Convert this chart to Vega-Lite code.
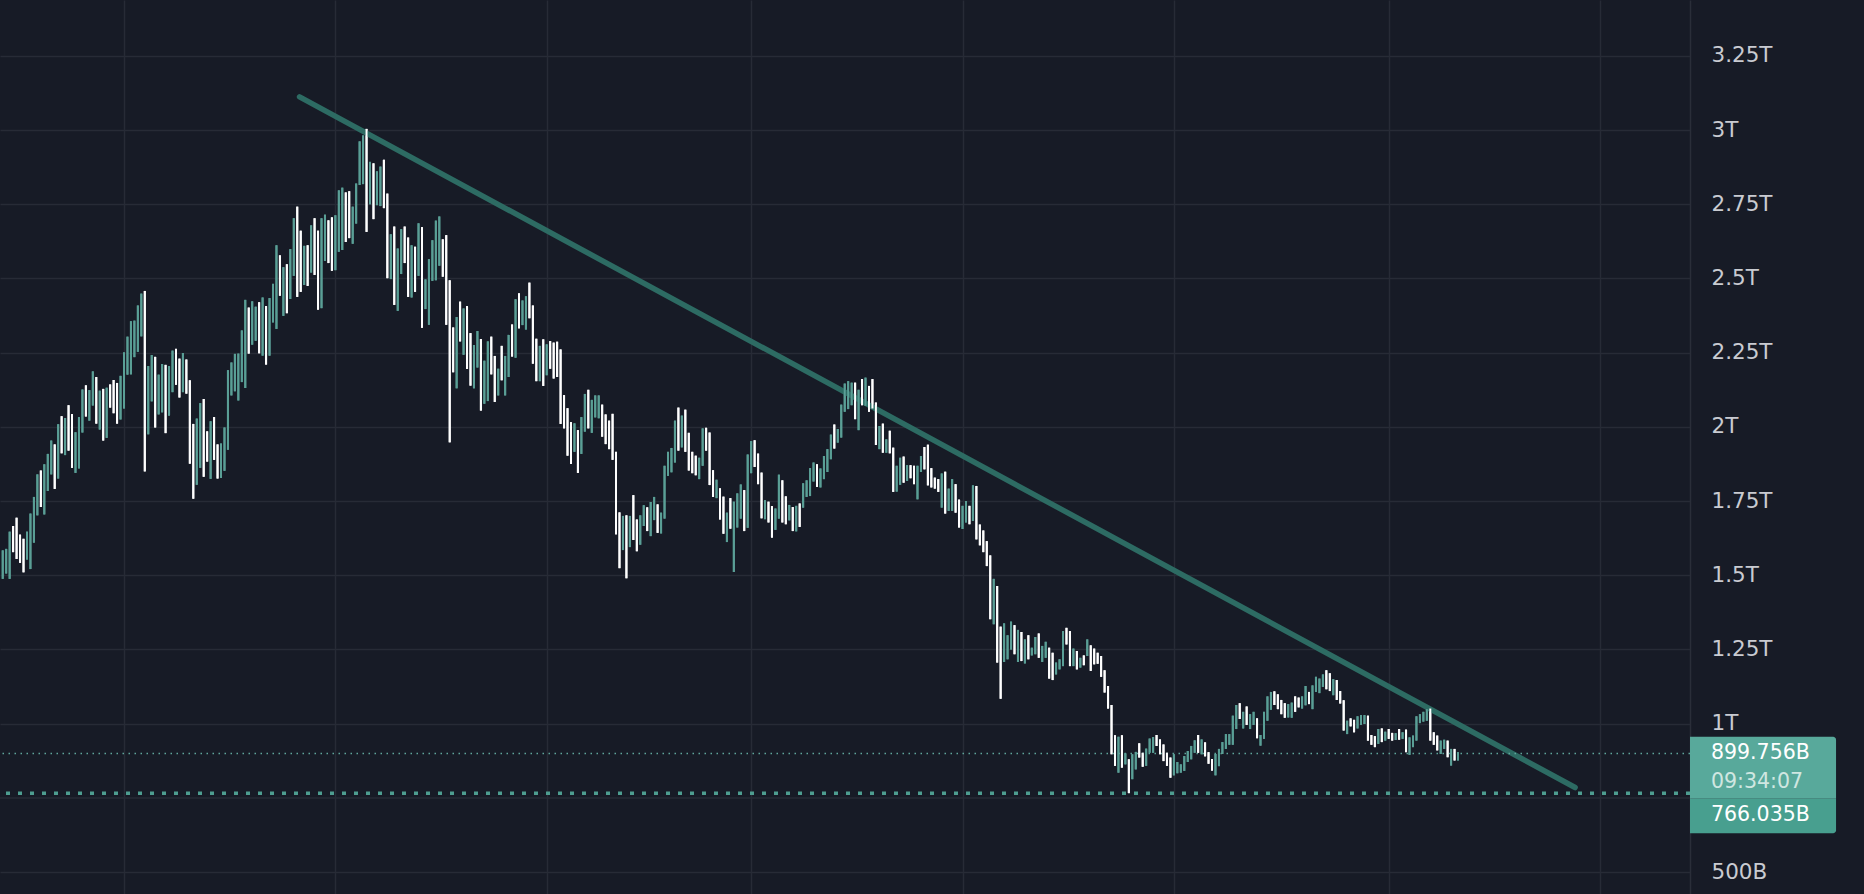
{
  "$schema": "https://vega.github.io/schema/vega-lite/v6.json",
  "width": 1690,
  "height": 894,
  "autosize": {"type": "none"},
  "padding": {"left": 0, "top": 0, "right": 174, "bottom": 0},
  "background": "#171b26",
  "config": {
    "view": {"stroke": null},
    "axis": {"gridColor": "#272b36", "gridWidth": 1.5, "ticks": false, "tickSize": 0, "domain": false, "labelFont": "DejaVu Sans"}
  },
  "datasets": {
    "bars": [
      {"t":"2021-07-28","h":1584,"l":1488,"dir":"up"},
      {"t":"2021-07-29","h":1589,"l":1506,"dir":"up"},
      {"t":"2021-07-30","h":1647,"l":1488,"dir":"up"},
      {"t":"2021-07-31","h":1666,"l":1578,"dir":"down"},
      {"t":"2021-08-01","h":1694,"l":1555,"dir":"down"},
      {"t":"2021-08-02","h":1637,"l":1542,"dir":"down"},
      {"t":"2021-08-03","h":1623,"l":1510,"dir":"down"},
      {"t":"2021-08-04","h":1647,"l":1553,"dir":"up"},
      {"t":"2021-08-05","h":1708,"l":1521,"dir":"up"},
      {"t":"2021-08-06","h":1764,"l":1610,"dir":"up"},
      {"t":"2021-08-07","h":1840,"l":1702,"dir":"up"},
      {"t":"2021-08-08","h":1853,"l":1730,"dir":"down"},
      {"t":"2021-08-09","h":1874,"l":1705,"dir":"up"},
      {"t":"2021-08-10","h":1909,"l":1784,"dir":"up"},
      {"t":"2021-08-11","h":1954,"l":1840,"dir":"up"},
      {"t":"2021-08-12","h":1941,"l":1791,"dir":"down"},
      {"t":"2021-08-13","h":2009,"l":1826,"dir":"up"},
      {"t":"2021-08-14","h":2036,"l":1911,"dir":"down"},
      {"t":"2021-08-15","h":2030,"l":1905,"dir":"up"},
      {"t":"2021-08-16","h":2073,"l":1920,"dir":"down"},
      {"t":"2021-08-17","h":2043,"l":1862,"dir":"down"},
      {"t":"2021-08-18","h":1982,"l":1845,"dir":"up"},
      {"t":"2021-08-19","h":2033,"l":1860,"dir":"up"},
      {"t":"2021-08-20","h":2126,"l":1981,"dir":"up"},
      {"t":"2021-08-21","h":2140,"l":2035,"dir":"down"},
      {"t":"2021-08-22","h":2124,"l":2021,"dir":"up"},
      {"t":"2021-08-23","h":2187,"l":2072,"dir":"up"},
      {"t":"2021-08-24","h":2168,"l":2011,"dir":"down"},
      {"t":"2021-08-25","h":2122,"l":1991,"dir":"up"},
      {"t":"2021-08-26","h":2128,"l":1954,"dir":"down"},
      {"t":"2021-08-27","h":2132,"l":1963,"dir":"up"},
      {"t":"2021-08-28","h":2143,"l":2065,"dir":"down"},
      {"t":"2021-08-29","h":2158,"l":2046,"dir":"down"},
      {"t":"2021-08-30","h":2148,"l":2011,"dir":"down"},
      {"t":"2021-08-31","h":2172,"l":2025,"dir":"up"},
      {"t":"2021-09-01","h":2251,"l":2062,"dir":"up"},
      {"t":"2021-09-02","h":2304,"l":2176,"dir":"up"},
      {"t":"2021-09-03","h":2356,"l":2177,"dir":"up"},
      {"t":"2021-09-04","h":2358,"l":2235,"dir":"up"},
      {"t":"2021-09-05","h":2409,"l":2253,"dir":"up"},
      {"t":"2021-09-06","h":2449,"l":2305,"dir":"up"},
      {"t":"2021-09-07","h":2458,"l":1850,"dir":"down"},
      {"t":"2021-09-08","h":2205,"l":1975,"dir":"up"},
      {"t":"2021-09-09","h":2242,"l":2086,"dir":"up"},
      {"t":"2021-09-10","h":2236,"l":1998,"dir":"down"},
      {"t":"2021-09-11","h":2176,"l":2042,"dir":"up"},
      {"t":"2021-09-12","h":2212,"l":2049,"dir":"up"},
      {"t":"2021-09-13","h":2209,"l":1979,"dir":"down"},
      {"t":"2021-09-14","h":2205,"l":2038,"dir":"up"},
      {"t":"2021-09-15","h":2257,"l":2117,"dir":"up"},
      {"t":"2021-09-16","h":2263,"l":2142,"dir":"down"},
      {"t":"2021-09-17","h":2230,"l":2099,"dir":"down"},
      {"t":"2021-09-18","h":2249,"l":2117,"dir":"up"},
      {"t":"2021-09-19","h":2227,"l":2112,"dir":"down"},
      {"t":"2021-09-20","h":2157,"l":1876,"dir":"down"},
      {"t":"2021-09-21","h":2010,"l":1758,"dir":"down"},
      {"t":"2021-09-22","h":2028,"l":1805,"dir":"up"},
      {"t":"2021-09-23","h":2080,"l":1862,"dir":"up"},
      {"t":"2021-09-24","h":2094,"l":1832,"dir":"down"},
      {"t":"2021-09-25","h":1985,"l":1883,"dir":"down"},
      {"t":"2021-09-26","h":2019,"l":1825,"dir":"up"},
      {"t":"2021-09-27","h":2033,"l":1889,"dir":"down"},
      {"t":"2021-09-28","h":1941,"l":1826,"dir":"down"},
      {"t":"2021-09-29","h":1944,"l":1828,"dir":"up"},
      {"t":"2021-09-30","h":1998,"l":1852,"dir":"up"},
      {"t":"2021-10-01","h":2191,"l":1923,"dir":"up"},
      {"t":"2021-10-02","h":2217,"l":2106,"dir":"up"},
      {"t":"2021-10-03","h":2246,"l":2120,"dir":"up"},
      {"t":"2021-10-04","h":2247,"l":2089,"dir":"up"},
      {"t":"2021-10-05","h":2325,"l":2151,"dir":"up"},
      {"t":"2021-10-06","h":2428,"l":2131,"dir":"up"},
      {"t":"2021-10-07","h":2402,"l":2247,"dir":"down"},
      {"t":"2021-10-08","h":2423,"l":2277,"dir":"up"},
      {"t":"2021-10-09","h":2405,"l":2290,"dir":"up"},
      {"t":"2021-10-10","h":2420,"l":2248,"dir":"down"},
      {"t":"2021-10-11","h":2436,"l":2240,"dir":"up"},
      {"t":"2021-10-12","h":2407,"l":2210,"dir":"down"},
      {"t":"2021-10-13","h":2434,"l":2240,"dir":"up"},
      {"t":"2021-10-14","h":2482,"l":2352,"dir":"up"},
      {"t":"2021-10-15","h":2612,"l":2330,"dir":"up"},
      {"t":"2021-10-16","h":2578,"l":2442,"dir":"down"},
      {"t":"2021-10-17","h":2538,"l":2374,"dir":"up"},
      {"t":"2021-10-18","h":2548,"l":2383,"dir":"down"},
      {"t":"2021-10-19","h":2599,"l":2431,"dir":"up"},
      {"t":"2021-10-20","h":2703,"l":2509,"dir":"up"},
      {"t":"2021-10-21","h":2742,"l":2438,"dir":"down"},
      {"t":"2021-10-22","h":2661,"l":2455,"dir":"down"},
      {"t":"2021-10-23","h":2610,"l":2478,"dir":"up"},
      {"t":"2021-10-24","h":2612,"l":2475,"dir":"down"},
      {"t":"2021-10-25","h":2679,"l":2520,"dir":"up"},
      {"t":"2021-10-26","h":2703,"l":2512,"dir":"down"},
      {"t":"2021-10-27","h":2661,"l":2395,"dir":"down"},
      {"t":"2021-10-28","h":2703,"l":2400,"dir":"up"},
      {"t":"2021-10-29","h":2715,"l":2559,"dir":"up"},
      {"t":"2021-10-30","h":2696,"l":2552,"dir":"down"},
      {"t":"2021-10-31","h":2706,"l":2526,"dir":"down"},
      {"t":"2021-11-01","h":2713,"l":2528,"dir":"up"},
      {"t":"2021-11-02","h":2797,"l":2590,"dir":"up"},
      {"t":"2021-11-03","h":2806,"l":2596,"dir":"up"},
      {"t":"2021-11-04","h":2790,"l":2623,"dir":"down"},
      {"t":"2021-11-05","h":2794,"l":2636,"dir":"down"},
      {"t":"2021-11-06","h":2742,"l":2617,"dir":"up"},
      {"t":"2021-11-07","h":2820,"l":2685,"dir":"up"},
      {"t":"2021-11-08","h":2962,"l":2815,"dir":"up"},
      {"t":"2021-11-09","h":2982,"l":2818,"dir":"up"},
      {"t":"2021-11-10","h":3004,"l":2657,"dir":"down"},
      {"t":"2021-11-11","h":2893,"l":2750,"dir":"up"},
      {"t":"2021-11-12","h":2888,"l":2700,"dir":"down"},
      {"t":"2021-11-13","h":2861,"l":2747,"dir":"up"},
      {"t":"2021-11-14","h":2877,"l":2744,"dir":"up"},
      {"t":"2021-11-15","h":2900,"l":2737,"dir":"down"},
      {"t":"2021-11-16","h":2786,"l":2501,"dir":"down"},
      {"t":"2021-11-17","h":2649,"l":2498,"dir":"up"},
      {"t":"2021-11-18","h":2675,"l":2411,"dir":"down"},
      {"t":"2021-11-19","h":2601,"l":2391,"dir":"up"},
      {"t":"2021-11-20","h":2666,"l":2515,"dir":"up"},
      {"t":"2021-11-21","h":2675,"l":2552,"dir":"down"},
      {"t":"2021-11-22","h":2638,"l":2438,"dir":"down"},
      {"t":"2021-11-23","h":2612,"l":2436,"dir":"up"},
      {"t":"2021-11-24","h":2607,"l":2455,"dir":"down"},
      {"t":"2021-11-25","h":2686,"l":2509,"dir":"up"},
      {"t":"2021-11-26","h":2673,"l":2334,"dir":"down"},
      {"t":"2021-11-27","h":2497,"l":2397,"dir":"up"},
      {"t":"2021-11-28","h":2565,"l":2344,"dir":"up"},
      {"t":"2021-11-29","h":2629,"l":2492,"dir":"up"},
      {"t":"2021-11-30","h":2695,"l":2494,"dir":"up"},
      {"t":"2021-12-01","h":2709,"l":2543,"dir":"up"},
      {"t":"2021-12-02","h":2632,"l":2506,"dir":"down"},
      {"t":"2021-12-03","h":2646,"l":2344,"dir":"down"},
      {"t":"2021-12-04","h":2494,"l":1948,"dir":"down"},
      {"t":"2021-12-05","h":2335,"l":2184,"dir":"down"},
      {"t":"2021-12-06","h":2370,"l":2130,"dir":"up"},
      {"t":"2021-12-07","h":2422,"l":2288,"dir":"down"},
      {"t":"2021-12-08","h":2399,"l":2243,"dir":"up"},
      {"t":"2021-12-09","h":2407,"l":2195,"dir":"down"},
      {"t":"2021-12-10","h":2316,"l":2139,"dir":"down"},
      {"t":"2021-12-11","h":2276,"l":2130,"dir":"up"},
      {"t":"2021-12-12","h":2323,"l":2200,"dir":"up"},
      {"t":"2021-12-13","h":2296,"l":2055,"dir":"down"},
      {"t":"2021-12-14","h":2223,"l":2078,"dir":"up"},
      {"t":"2021-12-15","h":2288,"l":2087,"dir":"up"},
      {"t":"2021-12-16","h":2304,"l":2177,"dir":"down"},
      {"t":"2021-12-17","h":2239,"l":2084,"dir":"down"},
      {"t":"2021-12-18","h":2196,"l":2106,"dir":"up"},
      {"t":"2021-12-19","h":2273,"l":2157,"dir":"down"},
      {"t":"2021-12-20","h":2239,"l":2106,"dir":"up"},
      {"t":"2021-12-21","h":2310,"l":2168,"dir":"up"},
      {"t":"2021-12-22","h":2345,"l":2237,"dir":"down"},
      {"t":"2021-12-23","h":2430,"l":2233,"dir":"up"},
      {"t":"2021-12-24","h":2450,"l":2332,"dir":"down"},
      {"t":"2021-12-25","h":2426,"l":2343,"dir":"up"},
      {"t":"2021-12-26","h":2440,"l":2328,"dir":"up"},
      {"t":"2021-12-27","h":2486,"l":2366,"dir":"down"},
      {"t":"2021-12-28","h":2409,"l":2213,"dir":"down"},
      {"t":"2021-12-29","h":2297,"l":2154,"dir":"down"},
      {"t":"2021-12-30","h":2273,"l":2154,"dir":"up"},
      {"t":"2021-12-31","h":2295,"l":2138,"dir":"down"},
      {"t":"2022-01-01","h":2278,"l":2174,"dir":"up"},
      {"t":"2022-01-02","h":2289,"l":2196,"dir":"down"},
      {"t":"2022-01-03","h":2284,"l":2163,"dir":"down"},
      {"t":"2022-01-04","h":2287,"l":2168,"dir":"down"},
      {"t":"2022-01-05","h":2261,"l":2010,"dir":"down"},
      {"t":"2022-01-06","h":2107,"l":1995,"dir":"down"},
      {"t":"2022-01-07","h":2063,"l":1903,"dir":"down"},
      {"t":"2022-01-08","h":2016,"l":1875,"dir":"down"},
      {"t":"2022-01-09","h":2012,"l":1916,"dir":"up"},
      {"t":"2022-01-10","h":1989,"l":1845,"dir":"down"},
      {"t":"2022-01-11","h":2033,"l":1909,"dir":"up"},
      {"t":"2022-01-12","h":2111,"l":1984,"dir":"up"},
      {"t":"2022-01-13","h":2125,"l":1995,"dir":"down"},
      {"t":"2022-01-14","h":2091,"l":1980,"dir":"up"},
      {"t":"2022-01-15","h":2106,"l":2032,"dir":"up"},
      {"t":"2022-01-16","h":2106,"l":2029,"dir":"up"},
      {"t":"2022-01-17","h":2075,"l":1967,"dir":"down"},
      {"t":"2022-01-18","h":2042,"l":1942,"dir":"down"},
      {"t":"2022-01-19","h":2021,"l":1925,"dir":"down"},
      {"t":"2022-01-20","h":2044,"l":1889,"dir":"down"},
      {"t":"2022-01-21","h":1916,"l":1638,"dir":"down"},
      {"t":"2022-01-22","h":1712,"l":1524,"dir":"down"},
      {"t":"2022-01-23","h":1700,"l":1585,"dir":"up"},
      {"t":"2022-01-24","h":1702,"l":1490,"dir":"down"},
      {"t":"2022-01-25","h":1700,"l":1595,"dir":"up"},
      {"t":"2022-01-26","h":1770,"l":1619,"dir":"down"},
      {"t":"2022-01-27","h":1688,"l":1581,"dir":"down"},
      {"t":"2022-01-28","h":1702,"l":1603,"dir":"up"},
      {"t":"2022-01-29","h":1736,"l":1666,"dir":"up"},
      {"t":"2022-01-30","h":1729,"l":1649,"dir":"down"},
      {"t":"2022-01-31","h":1747,"l":1632,"dir":"up"},
      {"t":"2022-02-01","h":1764,"l":1686,"dir":"up"},
      {"t":"2022-02-02","h":1739,"l":1643,"dir":"down"},
      {"t":"2022-02-03","h":1711,"l":1641,"dir":"up"},
      {"t":"2022-02-04","h":1869,"l":1691,"dir":"up"},
      {"t":"2022-02-05","h":1916,"l":1835,"dir":"up"},
      {"t":"2022-02-06","h":1929,"l":1847,"dir":"up"},
      {"t":"2022-02-07","h":2021,"l":1880,"dir":"up"},
      {"t":"2022-02-08","h":2065,"l":1920,"dir":"down"},
      {"t":"2022-02-09","h":2038,"l":1931,"dir":"up"},
      {"t":"2022-02-10","h":2058,"l":1916,"dir":"down"},
      {"t":"2022-02-11","h":1980,"l":1853,"dir":"down"},
      {"t":"2022-02-12","h":1916,"l":1844,"dir":"down"},
      {"t":"2022-02-13","h":1903,"l":1837,"dir":"down"},
      {"t":"2022-02-14","h":1896,"l":1824,"dir":"up"},
      {"t":"2022-02-15","h":1995,"l":1869,"dir":"up"},
      {"t":"2022-02-16","h":1997,"l":1920,"dir":"down"},
      {"t":"2022-02-17","h":1981,"l":1804,"dir":"down"},
      {"t":"2022-02-18","h":1854,"l":1764,"dir":"down"},
      {"t":"2022-02-19","h":1822,"l":1760,"dir":"up"},
      {"t":"2022-02-20","h":1793,"l":1688,"dir":"down"},
      {"t":"2022-02-21","h":1765,"l":1640,"dir":"down"},
      {"t":"2022-02-22","h":1711,"l":1612,"dir":"up"},
      {"t":"2022-02-23","h":1760,"l":1657,"dir":"down"},
      {"t":"2022-02-24","h":1748,"l":1511,"dir":"up"},
      {"t":"2022-02-25","h":1776,"l":1661,"dir":"up"},
      {"t":"2022-02-26","h":1806,"l":1691,"dir":"up"},
      {"t":"2022-02-27","h":1787,"l":1649,"dir":"down"},
      {"t":"2022-02-28","h":1907,"l":1660,"dir":"up"},
      {"t":"2022-03-01","h":1952,"l":1844,"dir":"up"},
      {"t":"2022-03-02","h":1955,"l":1865,"dir":"down"},
      {"t":"2022-03-03","h":1910,"l":1807,"dir":"down"},
      {"t":"2022-03-04","h":1846,"l":1692,"dir":"down"},
      {"t":"2022-03-05","h":1753,"l":1689,"dir":"up"},
      {"t":"2022-03-06","h":1748,"l":1678,"dir":"down"},
      {"t":"2022-03-07","h":1733,"l":1627,"dir":"down"},
      {"t":"2022-03-08","h":1725,"l":1653,"dir":"up"},
      {"t":"2022-03-09","h":1839,"l":1691,"dir":"up"},
      {"t":"2022-03-10","h":1820,"l":1678,"dir":"down"},
      {"t":"2022-03-11","h":1766,"l":1672,"dir":"down"},
      {"t":"2022-03-12","h":1737,"l":1685,"dir":"up"},
      {"t":"2022-03-13","h":1730,"l":1649,"dir":"down"},
      {"t":"2022-03-14","h":1734,"l":1648,"dir":"up"},
      {"t":"2022-03-15","h":1742,"l":1663,"dir":"down"},
      {"t":"2022-03-16","h":1810,"l":1728,"dir":"up"},
      {"t":"2022-03-17","h":1820,"l":1764,"dir":"up"},
      {"t":"2022-03-18","h":1861,"l":1767,"dir":"up"},
      {"t":"2022-03-19","h":1880,"l":1816,"dir":"up"},
      {"t":"2022-03-20","h":1874,"l":1798,"dir":"down"},
      {"t":"2022-03-21","h":1860,"l":1796,"dir":"up"},
      {"t":"2022-03-22","h":1902,"l":1824,"dir":"up"},
      {"t":"2022-03-23","h":1925,"l":1848,"dir":"up"},
      {"t":"2022-03-24","h":1974,"l":1891,"dir":"up"},
      {"t":"2022-03-25","h":2008,"l":1927,"dir":"down"},
      {"t":"2022-03-26","h":1993,"l":1947,"dir":"up"},
      {"t":"2022-03-27","h":2075,"l":1964,"dir":"up"},
      {"t":"2022-03-28","h":2146,"l":2051,"dir":"up"},
      {"t":"2022-03-29","h":2154,"l":2060,"dir":"up"},
      {"t":"2022-03-30","h":2149,"l":2073,"dir":"up"},
      {"t":"2022-03-31","h":2149,"l":2026,"dir":"down"},
      {"t":"2022-04-01","h":2125,"l":1989,"dir":"up"},
      {"t":"2022-04-02","h":2161,"l":2073,"dir":"down"},
      {"t":"2022-04-03","h":2166,"l":2071,"dir":"up"},
      {"t":"2022-04-04","h":2138,"l":2051,"dir":"down"},
      {"t":"2022-04-05","h":2161,"l":2062,"dir":"down"},
      {"t":"2022-04-06","h":2082,"l":1939,"dir":"down"},
      {"t":"2022-04-07","h":2003,"l":1925,"dir":"up"},
      {"t":"2022-04-08","h":2011,"l":1913,"dir":"down"},
      {"t":"2022-04-09","h":1958,"l":1913,"dir":"up"},
      {"t":"2022-04-10","h":1987,"l":1911,"dir":"down"},
      {"t":"2022-04-11","h":1930,"l":1781,"dir":"down"},
      {"t":"2022-04-12","h":1869,"l":1782,"dir":"up"},
      {"t":"2022-04-13","h":1896,"l":1805,"dir":"up"},
      {"t":"2022-04-14","h":1900,"l":1812,"dir":"down"},
      {"t":"2022-04-15","h":1871,"l":1818,"dir":"up"},
      {"t":"2022-04-16","h":1871,"l":1827,"dir":"down"},
      {"t":"2022-04-17","h":1869,"l":1807,"dir":"down"},
      {"t":"2022-04-18","h":1869,"l":1756,"dir":"up"},
      {"t":"2022-04-19","h":1902,"l":1848,"dir":"up"},
      {"t":"2022-04-20","h":1932,"l":1857,"dir":"down"},
      {"t":"2022-04-21","h":1940,"l":1803,"dir":"down"},
      {"t":"2022-04-22","h":1861,"l":1796,"dir":"down"},
      {"t":"2022-04-23","h":1829,"l":1792,"dir":"down"},
      {"t":"2022-04-24","h":1824,"l":1781,"dir":"down"},
      {"t":"2022-04-25","h":1843,"l":1728,"dir":"up"},
      {"t":"2022-04-26","h":1849,"l":1708,"dir":"down"},
      {"t":"2022-04-27","h":1792,"l":1717,"dir":"up"},
      {"t":"2022-04-28","h":1824,"l":1717,"dir":"up"},
      {"t":"2022-04-29","h":1807,"l":1711,"dir":"down"},
      {"t":"2022-04-30","h":1755,"l":1661,"dir":"down"},
      {"t":"2022-05-01","h":1734,"l":1656,"dir":"up"},
      {"t":"2022-05-02","h":1750,"l":1678,"dir":"up"},
      {"t":"2022-05-03","h":1734,"l":1672,"dir":"down"},
      {"t":"2022-05-04","h":1803,"l":1683,"dir":"up"},
      {"t":"2022-05-05","h":1801,"l":1621,"dir":"down"},
      {"t":"2022-05-06","h":1671,"l":1601,"dir":"down"},
      {"t":"2022-05-07","h":1651,"l":1578,"dir":"down"},
      {"t":"2022-05-08","h":1615,"l":1531,"dir":"down"},
      {"t":"2022-05-09","h":1567,"l":1352,"dir":"down"},
      {"t":"2022-05-10","h":1488,"l":1335,"dir":"up"},
      {"t":"2022-05-11","h":1464,"l":1206,"dir":"down"},
      {"t":"2022-05-12","h":1327,"l":1084,"dir":"down"},
      {"t":"2022-05-13","h":1338,"l":1208,"dir":"up"},
      {"t":"2022-05-14","h":1298,"l":1217,"dir":"up"},
      {"t":"2022-05-15","h":1344,"l":1250,"dir":"up"},
      {"t":"2022-05-16","h":1332,"l":1234,"dir":"down"},
      {"t":"2022-05-17","h":1316,"l":1208,"dir":"up"},
      {"t":"2022-05-18","h":1309,"l":1211,"dir":"down"},
      {"t":"2022-05-19","h":1284,"l":1203,"dir":"up"},
      {"t":"2022-05-20","h":1298,"l":1217,"dir":"down"},
      {"t":"2022-05-21","h":1256,"l":1230,"dir":"up"},
      {"t":"2022-05-22","h":1292,"l":1234,"dir":"up"},
      {"t":"2022-05-23","h":1304,"l":1222,"dir":"down"},
      {"t":"2022-05-24","h":1262,"l":1208,"dir":"up"},
      {"t":"2022-05-25","h":1276,"l":1222,"dir":"up"},
      {"t":"2022-05-26","h":1256,"l":1152,"dir":"down"},
      {"t":"2022-05-27","h":1239,"l":1147,"dir":"down"},
      {"t":"2022-05-28","h":1206,"l":1166,"dir":"up"},
      {"t":"2022-05-29","h":1217,"l":1183,"dir":"up"},
      {"t":"2022-05-30","h":1312,"l":1194,"dir":"up"},
      {"t":"2022-05-31","h":1323,"l":1267,"dir":"down"},
      {"t":"2022-06-01","h":1312,"l":1194,"dir":"down"},
      {"t":"2022-06-02","h":1253,"l":1194,"dir":"up"},
      {"t":"2022-06-03","h":1245,"l":1183,"dir":"down"},
      {"t":"2022-06-04","h":1222,"l":1189,"dir":"up"},
      {"t":"2022-06-05","h":1230,"l":1197,"dir":"down"},
      {"t":"2022-06-06","h":1284,"l":1228,"dir":"up"},
      {"t":"2022-06-07","h":1264,"l":1178,"dir":"down"},
      {"t":"2022-06-08","h":1253,"l":1200,"dir":"down"},
      {"t":"2022-06-09","h":1239,"l":1202,"dir":"down"},
      {"t":"2022-06-10","h":1228,"l":1158,"dir":"down"},
      {"t":"2022-06-11","h":1180,"l":1105,"dir":"down"},
      {"t":"2022-06-12","h":1127,"l":1051,"dir":"down"},
      {"t":"2022-06-13","h":1063,"l":897,"dir":"down"},
      {"t":"2022-06-14","h":961,"l":858,"dir":"down"},
      {"t":"2022-06-15","h":956,"l":835,"dir":"up"},
      {"t":"2022-06-16","h":961,"l":852,"dir":"down"},
      {"t":"2022-06-17","h":900,"l":863,"dir":"up"},
      {"t":"2022-06-18","h":880,"l":766,"dir":"down"},
      {"t":"2022-06-19","h":897,"l":813,"dir":"up"},
      {"t":"2022-06-20","h":905,"l":846,"dir":"up"},
      {"t":"2022-06-21","h":934,"l":886,"dir":"down"},
      {"t":"2022-06-22","h":902,"l":855,"dir":"down"},
      {"t":"2022-06-23","h":916,"l":858,"dir":"up"},
      {"t":"2022-06-24","h":950,"l":902,"dir":"up"},
      {"t":"2022-06-25","h":955,"l":902,"dir":"up"},
      {"t":"2022-06-26","h":962,"l":925,"dir":"down"},
      {"t":"2022-06-27","h":947,"l":897,"dir":"down"},
      {"t":"2022-06-28","h":930,"l":874,"dir":"down"},
      {"t":"2022-06-29","h":902,"l":858,"dir":"down"},
      {"t":"2022-06-30","h":886,"l":818,"dir":"down"},
      {"t":"2022-07-01","h":897,"l":826,"dir":"up"},
      {"t":"2022-07-02","h":871,"l":833,"dir":"up"},
      {"t":"2022-07-03","h":863,"l":835,"dir":"up"},
      {"t":"2022-07-04","h":891,"l":841,"dir":"up"},
      {"t":"2022-07-05","h":908,"l":871,"dir":"up"},
      {"t":"2022-07-06","h":925,"l":880,"dir":"up"},
      {"t":"2022-07-07","h":944,"l":902,"dir":"up"},
      {"t":"2022-07-08","h":962,"l":902,"dir":"down"},
      {"t":"2022-07-09","h":947,"l":897,"dir":"up"},
      {"t":"2022-07-10","h":937,"l":890,"dir":"down"},
      {"t":"2022-07-11","h":904,"l":865,"dir":"down"},
      {"t":"2022-07-12","h":881,"l":842,"dir":"down"},
      {"t":"2022-07-13","h":898,"l":826,"dir":"up"},
      {"t":"2022-07-14","h":915,"l":857,"dir":"up"},
      {"t":"2022-07-15","h":938,"l":898,"dir":"up"},
      {"t":"2022-07-16","h":965,"l":915,"dir":"up"},
      {"t":"2022-07-17","h":965,"l":929,"dir":"up"},
      {"t":"2022-07-18","h":1027,"l":929,"dir":"up"},
      {"t":"2022-07-19","h":1063,"l":982,"dir":"up"},
      {"t":"2022-07-20","h":1069,"l":1016,"dir":"down"},
      {"t":"2022-07-21","h":1040,"l":984,"dir":"up"},
      {"t":"2022-07-22","h":1058,"l":996,"dir":"down"},
      {"t":"2022-07-23","h":1032,"l":982,"dir":"up"},
      {"t":"2022-07-24","h":1040,"l":996,"dir":"up"},
      {"t":"2022-07-25","h":1018,"l":951,"dir":"down"},
      {"t":"2022-07-26","h":962,"l":926,"dir":"up"},
      {"t":"2022-07-27","h":1040,"l":949,"dir":"up"},
      {"t":"2022-07-28","h":1092,"l":1010,"dir":"up"},
      {"t":"2022-07-29","h":1107,"l":1047,"dir":"up"},
      {"t":"2022-07-30","h":1109,"l":1063,"dir":"down"},
      {"t":"2022-07-31","h":1099,"l":1049,"dir":"down"},
      {"t":"2022-08-01","h":1080,"l":1032,"dir":"down"},
      {"t":"2022-08-02","h":1069,"l":1020,"dir":"down"},
      {"t":"2022-08-03","h":1066,"l":1021,"dir":"up"},
      {"t":"2022-08-04","h":1071,"l":1020,"dir":"up"},
      {"t":"2022-08-05","h":1092,"l":1040,"dir":"down"},
      {"t":"2022-08-06","h":1088,"l":1055,"dir":"down"},
      {"t":"2022-08-07","h":1092,"l":1051,"dir":"up"},
      {"t":"2022-08-08","h":1127,"l":1062,"dir":"up"},
      {"t":"2022-08-09","h":1107,"l":1066,"dir":"down"},
      {"t":"2022-08-10","h":1129,"l":1049,"dir":"up"},
      {"t":"2022-08-11","h":1158,"l":1107,"dir":"up"},
      {"t":"2022-08-12","h":1152,"l":1103,"dir":"up"},
      {"t":"2022-08-13","h":1166,"l":1124,"dir":"up"},
      {"t":"2022-08-14","h":1180,"l":1116,"dir":"down"},
      {"t":"2022-08-15","h":1170,"l":1110,"dir":"down"},
      {"t":"2022-08-16","h":1150,"l":1096,"dir":"up"},
      {"t":"2022-08-17","h":1147,"l":1080,"dir":"down"},
      {"t":"2022-08-18","h":1110,"l":1068,"dir":"down"},
      {"t":"2022-08-19","h":1079,"l":977,"dir":"down"},
      {"t":"2022-08-20","h":1010,"l":965,"dir":"up"},
      {"t":"2022-08-21","h":1018,"l":991,"dir":"down"},
      {"t":"2022-08-22","h":1013,"l":971,"dir":"down"},
      {"t":"2022-08-23","h":1025,"l":984,"dir":"up"},
      {"t":"2022-08-24","h":1029,"l":996,"dir":"up"},
      {"t":"2022-08-25","h":1029,"l":999,"dir":"up"},
      {"t":"2022-08-26","h":1027,"l":943,"dir":"down"},
      {"t":"2022-08-27","h":962,"l":929,"dir":"down"},
      {"t":"2022-08-28","h":958,"l":921,"dir":"down"},
      {"t":"2022-08-29","h":982,"l":932,"dir":"up"},
      {"t":"2022-08-30","h":984,"l":938,"dir":"down"},
      {"t":"2022-08-31","h":973,"l":943,"dir":"up"},
      {"t":"2022-09-01","h":982,"l":949,"dir":"down"},
      {"t":"2022-09-02","h":969,"l":943,"dir":"down"},
      {"t":"2022-09-03","h":968,"l":945,"dir":"up"},
      {"t":"2022-09-04","h":982,"l":946,"dir":"down"},
      {"t":"2022-09-05","h":971,"l":949,"dir":"up"},
      {"t":"2022-09-06","h":980,"l":904,"dir":"down"},
      {"t":"2022-09-07","h":954,"l":895,"dir":"up"},
      {"t":"2022-09-08","h":960,"l":921,"dir":"up"},
      {"t":"2022-09-09","h":1025,"l":943,"dir":"up"},
      {"t":"2022-09-10","h":1032,"l":1002,"dir":"up"},
      {"t":"2022-09-11","h":1040,"l":1007,"dir":"up"},
      {"t":"2022-09-12","h":1049,"l":1010,"dir":"up"},
      {"t":"2022-09-13","h":1051,"l":943,"dir":"down"},
      {"t":"2022-09-14","h":971,"l":929,"dir":"down"},
      {"t":"2022-09-15","h":960,"l":910,"dir":"down"},
      {"t":"2022-09-16","h":943,"l":898,"dir":"up"},
      {"t":"2022-09-17","h":946,"l":915,"dir":"up"},
      {"t":"2022-09-18","h":943,"l":887,"dir":"down"},
      {"t":"2022-09-19","h":915,"l":859,"dir":"up"},
      {"t":"2022-09-20","h":915,"l":876,"dir":"down"},
      {"t":"2022-09-21","h":904,"l":876,"dir":"up"}
    ]
  },
  "layer": [
    {
      "data": {"values": [{"level": 750}]},
      "mark": {"type": "rule", "strokeWidth": 1.5, "color": "#272b36"},
      "encoding": {"y": {"field": "level", "type": "quantitative", "title": null}}
    },
    {
      "data": {"name": "bars"},
      "mark": {"type": "rule", "strokeWidth": 2},
      "encoding": {
        "x": {
          "field": "t", "type": "temporal", "title": null,
          "scale": {"type": "utc", "domain": [
            {"year": 2021, "month": "jul", "date": 27, "hours": 5, "minutes": 8, "utc": true},
            {"year": 2022, "month": "nov", "date": 26, "hours": 22, "minutes": 48, "utc": true}
          ]},
          "axis": {
            "values": [
              {"year": 2021, "month": "sep", "date": 1, "utc": true},
              {"year": 2021, "month": "nov", "date": 1, "utc": true},
              {"year": 2022, "month": "jan", "date": 1, "utc": true},
              {"year": 2022, "month": "mar", "date": 1, "utc": true},
              {"year": 2022, "month": "may", "date": 1, "utc": true},
              {"year": 2022, "month": "jul", "date": 1, "utc": true},
              {"year": 2022, "month": "sep", "date": 1, "utc": true},
              {"year": 2022, "month": "nov", "date": 1, "utc": true}
            ],
            "grid": true, "labels": false, "ticks": false, "domain": false
          }
        },
        "y": {
          "field": "h", "type": "quantitative", "title": null,
          "scale": {"domain": [426.2, 3438.3], "nice": false, "zero": false},
          "axis": {
            "orient": "right",
            "values": [500, 1000, 1250, 1500, 1750, 2000, 2250, 2500, 2750, 3000, 3250],
            "grid": true,
            "domain": true, "domainColor": "#2a2e39", "domainWidth": 1.5,
            "ticks": false, "tickSize": 0,
            "labelPadding": 21,
            "labelFont": "DejaVu Sans", "labelFontSize": 21.5, "labelColor": "#c9cbd1",
            "labelExpr": "datum.value >= 1000 ? format(datum.value / 1000, '~g') + 'T' : format(datum.value, 'd') + 'B'"
          }
        },
        "y2": {"field": "l"},
        "color": {"field": "dir", "type": "nominal", "legend": null,
          "scale": {"domain": ["up", "down"], "range": ["#5a9f96", "#ffffff"]}}
      }
    },
    {
      "data": {"values": [
        {"t": "2021-10-21T16:00:00Z", "v": 3112},
        {"t": "2022-10-24T19:00:00Z", "v": 785}
      ]},
      "mark": {"type": "line", "strokeWidth": 5.5, "strokeCap": "round", "color": "#2d6b63"},
      "encoding": {
        "x": {"field": "t", "type": "temporal", "title": null},
        "y": {"field": "v", "type": "quantitative", "title": null}
      }
    },
    {
      "data": {"values": [{"level": 899.756}]},
      "mark": {"type": "rule", "strokeWidth": 1.5, "strokeDash": [1.5, 4.5], "color": "#5fa69c"},
      "encoding": {"y": {"field": "level", "type": "quantitative", "title": null}}
    },
    {
      "data": {"values": [{"level": 766.035}]},
      "mark": {"type": "rule", "strokeWidth": 3.5, "strokeDash": [4, 8], "color": "#4e9d90"},
      "encoding": {"y": {"field": "level", "type": "quantitative", "title": null}}
    },
    {
      "data": {"name": "bars"},
      "mark": {"type": "rule", "strokeWidth": 2},
      "encoding": {
        "x": {"field": "t", "type": "temporal", "title": null},
        "y": {"field": "h", "type": "quantitative", "title": null},
        "y2": {"field": "l"},
        "color": {"field": "dir", "type": "nominal", "legend": null}
      }
    },
    {
      "data": {"values": [{"from": "2022-11-26T22:48:00Z", "to": "2023-01-08T02:24:00Z", "top": 956.2, "bottom": 747.3}]},
      "mark": {"type": "rect", "color": "#58a99b", "cornerRadiusTopRight": 3},
      "encoding": {
        "x": {"field": "from", "type": "temporal", "title": null},
        "x2": {"field": "to"},
        "y": {"field": "top", "type": "quantitative", "title": null},
        "y2": {"field": "bottom"}
      }
    },
    {
      "data": {"values": [{"from": "2022-11-26T22:48:00Z", "to": "2023-01-08T02:24:00Z", "top": 747.3, "bottom": 630.7}]},
      "mark": {"type": "rect", "color": "#489f8f", "cornerRadiusBottomRight": 3},
      "encoding": {
        "x": {"field": "from", "type": "temporal", "title": null},
        "x2": {"field": "to"},
        "y": {"field": "top", "type": "quantitative", "title": null},
        "y2": {"field": "bottom"}
      }
    },
    {
      "data": {"values": [
        {"t": "2022-12-03T00:00:00Z", "v": 899.756, "label": "899.756B"},
        {"t": "2022-12-03T00:00:00Z", "v": 692.4, "label": "766.035B"}
      ]},
      "mark": {"type": "text", "align": "left", "baseline": "middle", "font": "DejaVu Sans", "fontSize": 20.5, "color": "#ffffff"},
      "encoding": {
        "x": {"field": "t", "type": "temporal", "title": null},
        "y": {"field": "v", "type": "quantitative", "title": null},
        "text": {"field": "label"}
      }
    },
    {
      "data": {"values": [{"t": "2022-12-03T00:00:00Z", "v": 804.6, "label": "09:34:07"}]},
      "mark": {"type": "text", "align": "left", "baseline": "middle", "font": "DejaVu Sans", "fontSize": 20.5, "color": "#e4f2ee", "opacity": 0.85},
      "encoding": {
        "x": {"field": "t", "type": "temporal", "title": null},
        "y": {"field": "v", "type": "quantitative", "title": null},
        "text": {"field": "label"}
      }
    }
  ]
}
